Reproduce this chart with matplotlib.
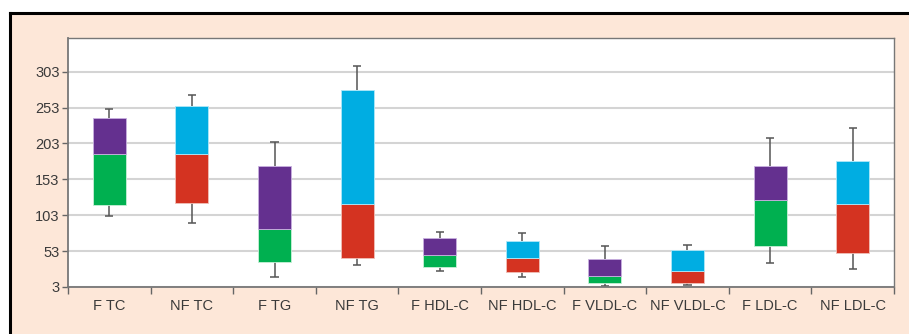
import matplotlib.pyplot as plt
from matplotlib.lines import Line2D
from matplotlib.patches import Rectangle
import numpy as np

# values
labels = ['F TC', 'NF TC', 'F TG', 'NF TG', 'F HDL-C', 'NF HDL-C',
          'F VLDL-C', 'NF VLDL-C', 'F LDL-C', 'NF LDL-C']
whisk_low = [101.6, 92.8, 17.4, 33.7, 25.3, 17.4, 3.9, 6.3, 36.0, 28.6]
q1 = [117.0, 120.2, 38.3, 43.9, 30.9, 24.4, 8.1, 8.1, 59.7, 50.9]
median = [189.0, 188.6, 83.5, 119.3, 48.1, 43.5, 17.9, 24.9, 123.9, 118.3]
q3 = [237.9, 255.1, 172.3, 277.9, 71.4, 67.6, 41.6, 55.1, 171.8, 177.9]
whisk_high = [251.4, 270.9, 205.3, 311.4, 79.3, 77.9, 60.7, 61.1, 210.9, 224.4]
yticks = [3, 53, 103, 153, 203, 253, 303]

lower_col = {'F': '#00b050', 'NF': '#d43321'}
upper_col = {'F': '#64308f', 'NF': '#00ade2'}

plt.rcParams['font.family'] = ['Liberation Sans', 'DejaVu Sans']

fig = plt.figure(figsize=(9.09, 3.34), dpi=100)
fig.patch.set_facecolor('white')

# peach panel with black border on top and left
fx0, fy1 = 10 / 909, 1 - 13 / 334
fig.patches.append(Rectangle((fx0, 0), 1 - fx0, fy1, transform=fig.transFigure,
                             facecolor='#fde7d8', edgecolor='none', zorder=-2))
fig.lines.append(Line2D([fx0, 1], [fy1, fy1], transform=fig.transFigure, color='black', lw=2.2, zorder=-1))
fig.lines.append(Line2D([fx0, fx0], [0, fy1], transform=fig.transFigure, color='black', lw=2.2, zorder=-1))

ax = fig.add_axes([68 / 909, 1 - 287 / 334, (894 - 68) / 909, (287 - 38) / 334])
ax.set_zorder(2)
ax.set_facecolor('white')

x = np.arange(len(labels))
w = 0.4
for i, lab in enumerate(labels):
    g = lab.split()[0]
    ax.bar(x[i], median[i] - q1[i], bottom=q1[i], width=w, color=lower_col[g],
           edgecolor='#c8f0d8' if g == 'F' else '#f0c0b8', linewidth=0.6, zorder=3)
    ax.bar(x[i], q3[i] - median[i], bottom=median[i], width=w, color=upper_col[g],
           edgecolor='#c8b0e0' if g == 'F' else '#b0e8f8', linewidth=0.6, zorder=3)

ax.vlines(x, q3, whisk_high, color='#555555', lw=1.1, zorder=2)
ax.vlines(x, whisk_low, q1, color='#555555', lw=1.1, zorder=2)
ax.hlines(whisk_high, x - 0.05, x + 0.05, color='#555555', lw=1.1, zorder=2)
ax.hlines(whisk_low, x - 0.05, x + 0.05, color='#555555', lw=1.1, zorder=2)

ax.set_xlim(-0.5, len(labels) - 0.5)
ax.set_ylim(3, 350)
ax.set_yticks(yticks)
ax.set_yticklabels([str(t) for t in yticks], fontsize=10.5, color='#3a3a3a')
ax.set_xticks(x)
ax.set_xticklabels(labels, fontsize=10.5, color='#3a3a3a')
ax.xaxis.set_tick_params(length=0, pad=9)
ax.set_xticks(np.arange(len(labels) + 1) - 0.5, minor=True)
ax.tick_params(axis='x', which='minor', length=5, color='#666666', width=1)
ax.tick_params(axis='y', length=4, color='#666666', width=1, pad=2)

ax.grid(axis='y', color='#d4d4d4', lw=1.5, zorder=0)
ax.set_axisbelow(True)
for s in ax.spines.values():
    s.set_color('#777777')
    s.set_linewidth(1.0)
ax.spines['left'].set_linewidth(1.3)
ax.spines['bottom'].set_linewidth(1.3)

fig.savefig('out.png', dpi=100, facecolor=fig.get_facecolor())
